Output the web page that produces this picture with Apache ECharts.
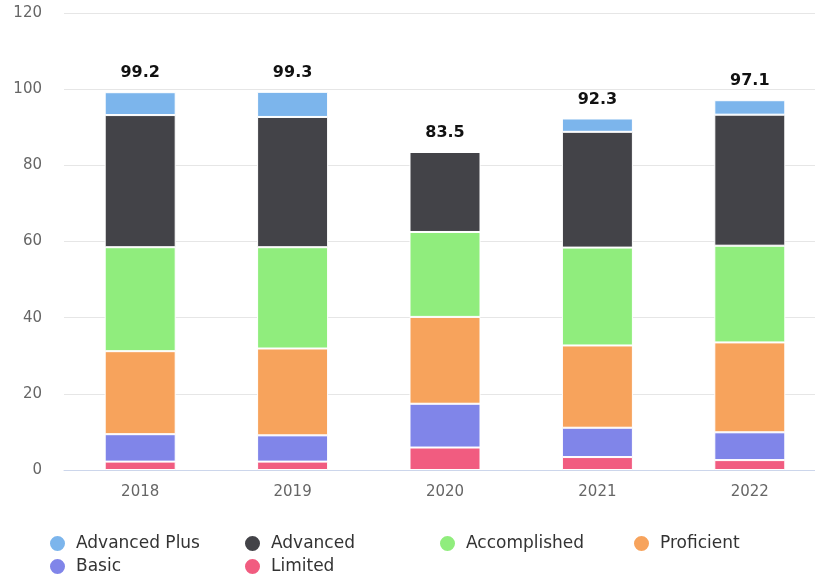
<!DOCTYPE html>
<html>
<head>
<meta charset="utf-8">
<script src="https://cdn.jsdelivr.net/npm/echarts@6/dist/echarts.min.js"></script>
<style>
  html, body { margin: 0; padding: 0; background: #fff; overflow: hidden; }
  /* the original is cropped on the right, so the canvas runs past the window */
  #chart { width: 826px; height: 575px; }
</style>
</head>
<body>
<div id="chart"></div>
<script>
const years = ['2018', '2019', '2020', '2021', '2022'];
const yTicks = [0, 20, 40, 60, 80, 100, 120];

const limited = [2.2, 2.2, 5.9, 3.4, 2.6];
const basic = [7.2, 6.9, 11.5, 7.7, 7.3];
const proficient = [21.8, 22.8, 22.8, 21.6, 23.6];
const accomplished = [27.3, 26.6, 22.3, 25.7, 25.4];
const advanced = [34.7, 34.2, 21.0, 30.4, 34.4];
const advancedPlus = [6.0, 6.6, 0, 3.5, 3.8];
const totals = [99.2, 99.3, 83.5, 92.3, 97.1];

const font = 'DejaVu Sans';

const chart = echarts.init(document.getElementById('chart'));

const makeSeries = (name, data, color) => ({
  name: name,
  type: 'bar',
  stack: 'scores',
  barWidth: 71,
  data: data,
  itemStyle: { color: color, borderColor: '#fff', borderWidth: 1 },
  emphasis: { disabled: true }
});

const topSeries = makeSeries('Advanced Plus', advancedPlus, '#7cb5ec');
topSeries.label = {
  show: true,
  position: 'top',
  distance: 11,
  color: '#111',
  fontFamily: font,
  fontWeight: 'bold',
  fontSize: 16,
  formatter: p => totals[p.dataIndex].toFixed(1)
};

const legendItem = (name, left, top) => ({
  data: [name],
  left: left,
  top: top,
  icon: 'circle',
  itemWidth: 17,
  itemHeight: 17,
  padding: 0,
  selectedMode: false,
  textStyle: { color: '#333', fontFamily: font, fontSize: 17, padding: [0, 0, 0, 5] }
});

const option = {
  animation: false,
  backgroundColor: '#fff',
  grid: { left: 64, top: 13, right: 0, bottom: 105, containLabel: false },
  legend: [
    legendItem('Advanced Plus', 48, 534),
    legendItem('Advanced', 243, 534),
    legendItem('Accomplished', 438, 534),
    legendItem('Proficient', 632, 534),
    legendItem('Basic', 48, 557),
    legendItem('Limited', 243, 557)
  ],
  xAxis: {
    type: 'category',
    data: years,
    axisLine: { lineStyle: { color: '#ccd6eb', width: 1 } },
    axisTick: { show: false },
    axisLabel: { color: '#666', fontFamily: font, fontSize: 15, margin: 15 }
  },
  yAxis: {
    type: 'value',
    min: yTicks[0],
    max: yTicks[yTicks.length - 1],
    interval: 20,
    axisLine: { show: false },
    axisTick: { show: false },
    splitLine: { lineStyle: { color: '#e6e6e6', width: 1 } },
    axisLabel: { color: '#666', fontFamily: font, fontSize: 15, margin: 22 }
  },
  series: [
    makeSeries('Limited', limited, '#f15c80'),
    makeSeries('Basic', basic, '#8085e9'),
    makeSeries('Proficient', proficient, '#f7a35c'),
    makeSeries('Accomplished', accomplished, '#90ed7d'),
    makeSeries('Advanced', advanced, '#434348'),
    topSeries
  ]
};

chart.setOption(option);
</script>
</body>
</html>
